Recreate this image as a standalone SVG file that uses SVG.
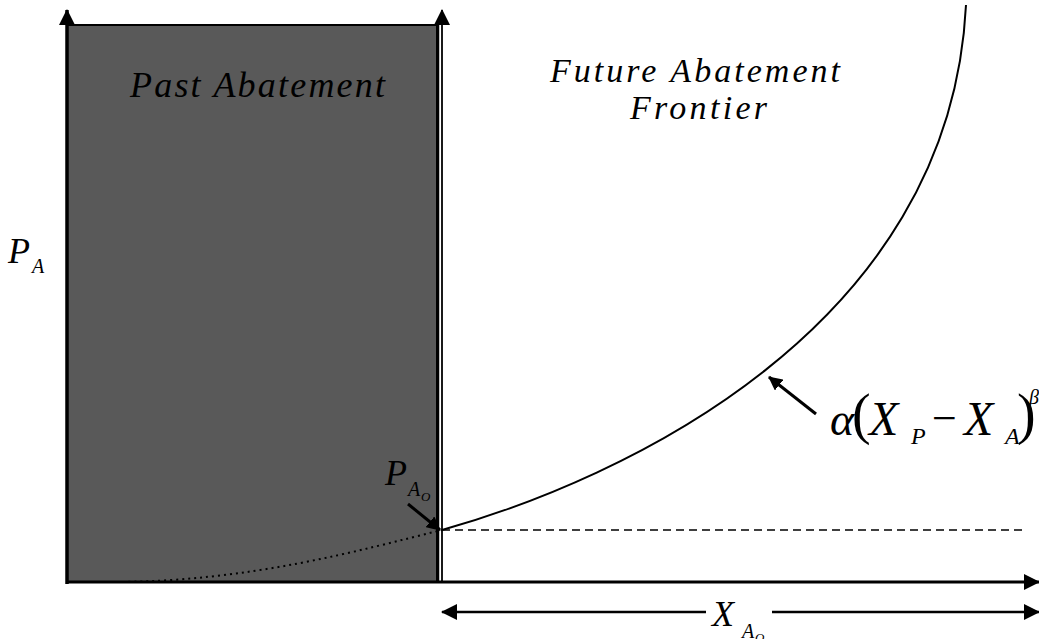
<svg xmlns="http://www.w3.org/2000/svg" width="1039" height="639" viewBox="0 0 1039 639">
<style>
.t{font-family:"Liberation Serif","Times New Roman",serif;font-style:italic;fill:#000}
.n{font-family:"Liberation Serif","Times New Roman",serif;font-style:normal;fill:#000}
.ln{stroke:#000;fill:none}
</style>
<defs>
<marker id="ah" viewBox="0 0 16 16" refX="15" refY="8" markerWidth="16" markerHeight="16" markerUnits="userSpaceOnUse" orient="auto-start-reverse">
<path d="M0,0 L16,8 L0,16 Z" fill="#000"/>
</marker>
<marker id="ah2" viewBox="0 0 14 14" refX="13" refY="7" markerWidth="14" markerHeight="14" markerUnits="userSpaceOnUse" orient="auto">
<path d="M0,0 L14,7 L0,14 Z" fill="#000"/>
</marker>
</defs>
<rect width="1039" height="639" fill="#fff"/>
<g id="past">
<rect x="67" y="25" width="370" height="557" fill="#595959" stroke="#000" stroke-width="2"/>
<text class="t" x="130" y="97" font-size="36" textLength="255" lengthAdjust="spacing">Past Abatement</text>
</g>
<g id="connectors">
<line class="ln" x1="67" y1="584" x2="67" y2="10" stroke-width="3.5" marker-end="url(#ah)"/>
<line class="ln" x1="438.5" y1="582" x2="438.5" y2="25" stroke-width="1.5"/>
<line class="ln" x1="442" y1="582" x2="442" y2="10" stroke-width="1.8" marker-end="url(#ah)"/>
<line class="ln" x1="66" y1="582" x2="1039" y2="582" stroke-width="3" marker-end="url(#ah)"/>
<line class="ln" x1="442" y1="612" x2="706" y2="612" stroke-width="2.5" marker-start="url(#ah)"/>
<line class="ln" x1="772" y1="612" x2="1039" y2="612" stroke-width="2.5" marker-end="url(#ah)"/>
<line class="ln" x1="442" y1="530" x2="1025" y2="530" stroke-width="1.3" stroke-dasharray="8,5"/>
<path class="ln" d="M442,530 C620,480 950,330 966,5" stroke-width="2"/>
<path class="ln" d="M110,582 C250,582 360,550 442,530" stroke-width="2" stroke-dasharray="2,4"/>
<line class="ln" x1="816" y1="414" x2="769" y2="377" stroke-width="3" marker-end="url(#ah2)"/>
<line class="ln" x1="408" y1="504" x2="440" y2="530" stroke-width="3" marker-end="url(#ah2)"/>
</g>
<g id="frontier">
<text class="t" x="550" y="82" font-size="34" textLength="290" lengthAdjust="spacing">Future Abatement</text>
<text class="t" x="630" y="119" font-size="34" textLength="137" lengthAdjust="spacing">Frontier</text>
</g>
<g id="PA">
<text class="t" x="8" y="263" font-size="36">P</text>
<text class="t" x="32" y="273" font-size="20">A</text>
</g>
<g id="PA0">
<text class="t" x="385" y="485" font-size="36">P</text>
<text class="t" x="408" y="496" font-size="20">A</text>
<text class="t" x="421" y="501" font-size="13">O</text>
</g>
<g id="formula">
<text class="t" x="830" y="435" font-size="46">α</text>
<text class="n" x="852" y="433" font-size="56">(</text>
<text class="t" x="869" y="435" font-size="48">X</text>
<text class="t" x="911" y="444" font-size="24">P</text>
<text class="n" x="932" y="433" font-size="44">−</text>
<text class="t" x="964" y="435" font-size="48">X</text>
<text class="t" x="1005" y="444" font-size="24">A</text>
<text class="n" x="1017" y="433" font-size="56">)</text>
<text class="t" x="1029" y="404" font-size="20">β</text>
</g>
<g id="XA0">
<text class="t" x="712" y="626" font-size="36">X</text>
<text class="t" x="742" y="638" font-size="20">A</text>
<text class="t" x="755" y="642" font-size="13">O</text>
</g>
</svg>
